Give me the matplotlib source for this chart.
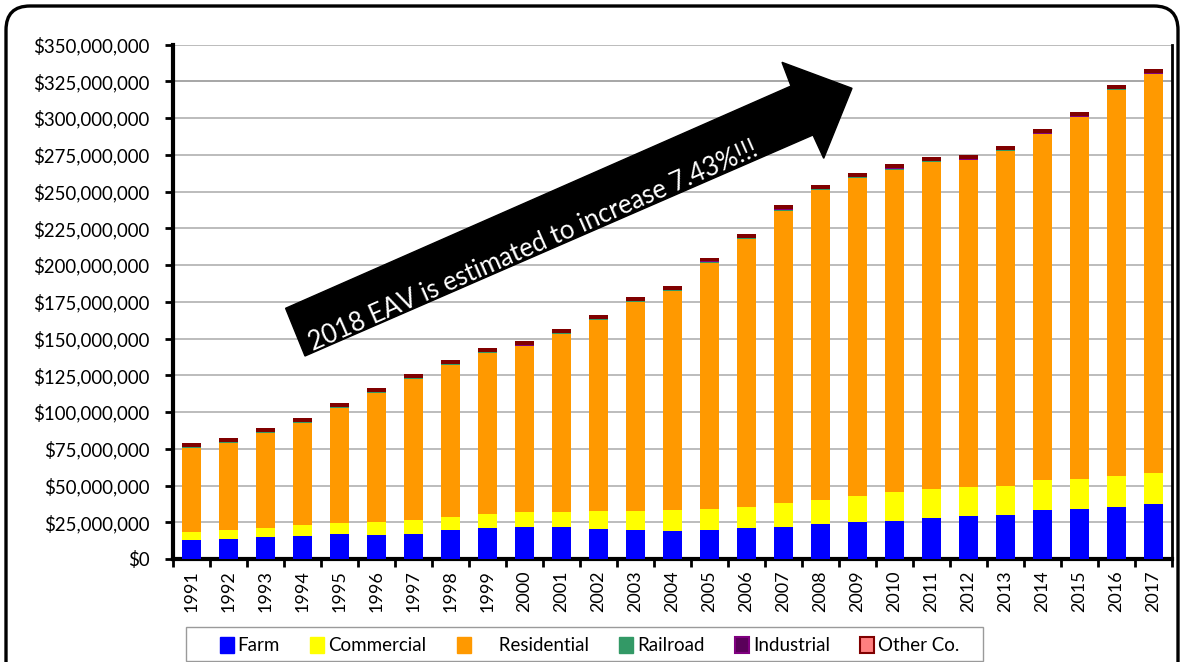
import matplotlib
matplotlib.use('Agg')
import matplotlib.pyplot as plt
import numpy as np
from matplotlib.patches import Polygon, FancyBboxPatch, Patch, Rectangle
from matplotlib.transforms import IdentityTransform
from matplotlib.ticker import FuncFormatter, MultipleLocator

plt.rcParams['font.family'] = ['Lato', 'DejaVu Sans']

years = [str(y) for y in range(1991, 2018)]
# values in millions of dollars
farm = [12.9, 13.6, 15.0, 15.9, 16.8, 16.3, 17.2, 19.5, 21.3, 22.0, 21.6, 20.6, 19.5, 19.3,
        19.5, 20.9, 22.0, 23.6, 25.0, 26.1, 27.7, 29.0, 30.1, 33.1, 33.8, 35.4, 37.4]
commercial = [5.7, 6.1, 6.3, 7.0, 7.5, 8.7, 9.3, 9.3, 9.5, 9.8, 10.4, 12.1, 13.4, 14.0,
              14.5, 14.7, 15.9, 16.7, 17.9, 19.5, 19.7, 20.0, 19.6, 20.6, 20.8, 21.2, 21.3]
residential = [56.9, 59.2, 64.4, 69.6, 78.2, 87.7, 95.7, 103.2, 109.3, 112.8, 121.1, 129.7, 141.7, 149.0,
               167.6, 182.3, 199.1, 210.6, 216.4, 219.3, 222.8, 222.1, 227.8, 235.1, 245.8, 262.3, 270.9]
railroad = [0.6] * 27
industrial = [0.2] * 27
other = [2.6] * 14 + [2.7] * 13

series_names = ['Farm', 'Commercial', 'Residential', 'Railroad', 'Industrial', 'Other Co.']
series_vals = [farm, commercial, residential, railroad, industrial, other]
colors = ['#0000FF', '#FFFF00', '#FF9900', '#339966', '#800080', '#800000']

annotation = '2018 EAV is estimated to increase 7.43%!!!'

W, H = 1185, 662
fig = plt.figure(figsize=(W / 100, H / 100), dpi=100)
ax = fig.add_axes([173 / W, 1 - 559 / H, (1172 - 173) / W, (559 - 44.5) / H])

x = np.arange(len(years))
bottom = np.zeros(len(years))
for vals, c, name in zip(series_vals, colors, series_names):
    v = np.array(vals) * 1e6
    ax.bar(x, v, 0.52, bottom=bottom, color=c, label=name, zorder=3, linewidth=0)
    bottom += v

ax.set_xlim(-0.5, len(years) - 0.5)
ax.set_ylim(0, 350e6)
ax.yaxis.set_major_locator(MultipleLocator(25e6))
ax.yaxis.set_major_formatter(FuncFormatter(lambda v, p: '${:,.0f}'.format(v)))
ax.grid(axis='y', color='#B0B0B0', lw=1.2, zorder=0)
ax.axhline(325e6, color='#777777', lw=1.3, zorder=1)

ax.set_xticks(x)
ax.set_xticklabels(years, rotation=90, fontsize=13)
ax.set_xticks(np.arange(-0.5, len(years)), minor=True)
ax.tick_params(axis='x', which='major', length=0, pad=8)
ax.tick_params(axis='x', which='minor', length=6, width=2, direction='out', color='black')
ax.tick_params(axis='y', length=6, width=2, direction='out', labelsize=13.4, pad=11)

for s in ['left', 'bottom']:
    ax.spines[s].set_linewidth(3)
    ax.spines[s].set_color('black')
ax.spines['right'].set_linewidth(2)
ax.spines['right'].set_color('black')
ax.spines['top'].set_visible(False)

# big arrow (pixel coords from top-left)
pts = [(285.6, 308.3), (791, 86), (782, 62.3), (852, 88.3), (823.7, 158.3), (813, 135), (305, 356)]
disp = [(px, H - py) for px, py in pts]
arrow = Polygon(disp, closed=True, facecolor='black', edgecolor='black',
                transform=IdentityTransform(), zorder=10)
fig.add_artist(arrow)
fig.text(533 / W, 1 - 246 / H, annotation, color='white', fontsize=18.5,
         rotation=23.7, rotation_mode='anchor', ha='center', va='center', zorder=11)

# legend frame
frame = Rectangle((186, H - 661), 983 - 186, 34, fill=False, edgecolor='#9A9A9A', lw=1.0,
                  transform=IdentityTransform(), clip_on=False)
fig.add_artist(frame)

# legend
handles = [Patch(facecolor=colors[0], edgecolor=colors[0]),
           Patch(facecolor=colors[1], edgecolor=colors[1]),
           Patch(facecolor=colors[2], edgecolor=colors[2]),
           Patch(facecolor=colors[3], edgecolor=colors[3]),
           Patch(facecolor='#5a005a', edgecolor=colors[4], lw=1.5),
           Patch(facecolor='#FF7F7F', edgecolor=colors[5], lw=1.5)]
labels = ['Farm', 'Commercial', '     Residential', 'Railroad', 'Industrial', 'Other Co.']
leg = fig.legend(handles, labels, loc='lower left', ncol=6, mode='expand',
                 bbox_to_anchor=(213 / W, 1 - 661 / H, (966 - 213) / W, 34 / H),
                 frameon=False, fontsize=13.5,
                 handlelength=0.75, handleheight=0.95, handletextpad=0.2,
                 borderaxespad=0, borderpad=0.35)

# rounded outer border
border = FancyBboxPatch((6, -40), W - 13, H - 6 + 40,
                        boxstyle='round,pad=0,rounding_size=24',
                        fill=False, edgecolor='black', lw=2.4,
                        transform=IdentityTransform(), clip_on=False)
fig.add_artist(border)

fig.savefig('out.png', dpi=100)
